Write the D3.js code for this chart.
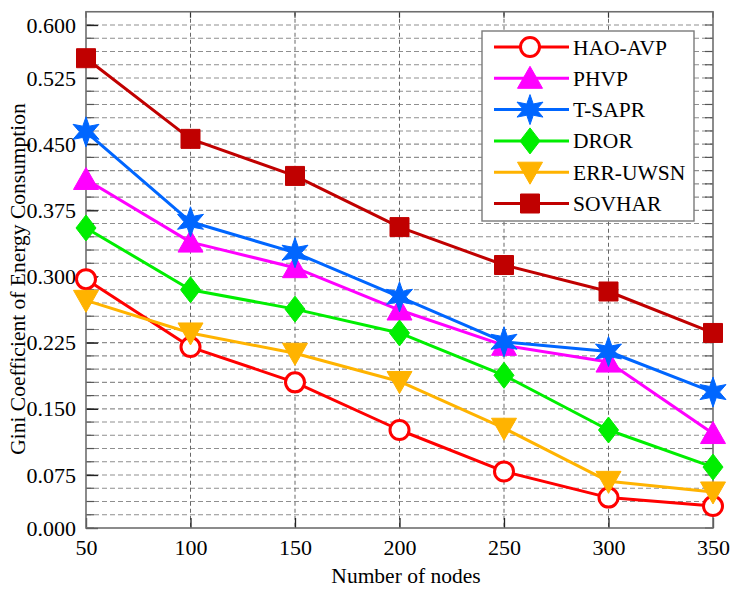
<!DOCTYPE html>
<html>
<head>
<meta charset="utf-8">
<script src="https://cdn.jsdelivr.net/npm/d3@7/dist/d3.min.js"></script>
<style>
  html, body { margin: 0; padding: 0; background: #fff; }
  svg { display: block; font-family: "Liberation Serif", "Times New Roman", serif; }
</style>
</head>
<body>
<svg id="chart" width="734" height="592"></svg>
<script>
// ---------- data ----------
const categories = [50, 100, 150, 200, 250, 300, 350];
const seriesNames = ["HAO-AVP", "PHVP", "T-SAPR", "DROR", "ERR-UWSN", "SOVHAR"];
const haoAvp  = [0.297, 0.220, 0.180, 0.126, 0.079, 0.043, 0.031];
const phvp    = [0.410, 0.339, 0.310, 0.262, 0.222, 0.203, 0.122];
const tSapr   = [0.464, 0.362, 0.327, 0.277, 0.226, 0.215, 0.169];
const dror    = [0.355, 0.285, 0.263, 0.236, 0.188, 0.126, 0.084];
const errUwsn = [0.273, 0.236, 0.213, 0.181, 0.128, 0.066, 0.051];
const sovhar  = [0.553, 0.456, 0.414, 0.356, 0.313, 0.283, 0.236];
const yTickValues = [0.000, 0.075, 0.150, 0.225, 0.300, 0.375, 0.450, 0.525, 0.600];
const xTickValues = [50, 100, 150, 200, 250, 300, 350];
const xTitle = "Number of nodes";
const yTitle = "Gini Coefficient of Energy Consumption";

(function () {
// ---------- styles ----------
const colors  = ["#ff0000", "#ff00ff", "#0066ff", "#00ee00", "#ffb300", "#c00000"];
const markers = ["circle", "triUp", "star", "diamond", "triDown", "square"];
const allValues = [haoAvp, phvp, tSapr, dror, errUwsn, sovhar];
const tickFont = 22, titleFont = 21.5, legendFont = 21.5;

const svg = d3.select("#chart");
svg.append("rect").attr("width", 734).attr("height", 592).attr("fill", "#fff");

const x = d3.scaleLinear().domain([50, 350]).range([86, 713]);
// piecewise axis (end intervals are shorter on the original picture)
const y = d3.scaleLinear().domain([0, 0.075, 0.525, 0.6]).range([528, 475, 78, 25]);
const yTop = 0.6 + 0.075 / 4;   // top edge of the axes box

const pL = x(50), pR = x(350), pT = y(yTop), pB = y(0);

// ---------- grid ----------
const minorVals = [
  ...d3.range(0, 4).map(i => 0.075 * i / 4),
  ...d3.range(0, 30).map(i => 0.075 + 0.015 * i),
  ...d3.range(0, 5).map(i => 0.525 + 0.075 * i / 4)
];
const grid = svg.append("g");
grid.selectAll("line.h").data(minorVals.filter(v => v > 0.0001)).join("line")
  .attr("x1", pL).attr("x2", pR)
  .attr("y1", d => y(d)).attr("y2", d => y(d))
  .attr("stroke", "#8f8f8f").attr("stroke-width", 1.1).attr("stroke-dasharray", "5,3");
grid.selectAll("line.v").data(xTickValues.slice(1, -1)).join("line")
  .attr("x1", d => x(d)).attr("x2", d => x(d))
  .attr("y1", pT).attr("y2", pB)
  .attr("stroke", "#666").attr("stroke-width", 1).attr("stroke-dasharray", "4,3");

// minor ticks on left and right (inward)
const mt = svg.append("g");
mt.selectAll("line.l").data(minorVals).join("line")
  .attr("x1", pL).attr("x2", pL + 8).attr("y1", d => y(d)).attr("y2", d => y(d))
  .attr("stroke", "#555").attr("stroke-width", 1.2);
mt.selectAll("line.r").data(minorVals).join("line")
  .attr("x1", pR).attr("x2", pR - 8).attr("y1", d => y(d)).attr("y2", d => y(d))
  .attr("stroke", "#555").attr("stroke-width", 1.2);
mt.selectAll("line.t").data(xTickValues).join("line")
  .attr("x1", d => x(d)).attr("x2", d => x(d)).attr("y1", pT).attr("y2", pT + 6)
  .attr("stroke", "#333").attr("stroke-width", 1.2);

// ---------- axes ----------
const yAxis = d3.axisLeft(y).tickValues(yTickValues).tickFormat(d3.format(".3f"))
  .tickSizeInner(-12).tickSizeOuter(0).tickPadding(10);
const gy = svg.append("g").attr("transform", `translate(${pL},0)`).call(yAxis);
gy.select(".domain").remove();
gy.selectAll(".tick line").attr("stroke", "#222").attr("stroke-width", 1.3);
gy.selectAll(".tick text").attr("font-size", tickFont).attr("fill", "#000")
  .attr("font-family", "Liberation Serif, serif");

const xAxis = d3.axisBottom(x).tickValues(xTickValues).tickFormat(d3.format("d"))
  .tickSizeInner(-10).tickSizeOuter(0).tickPadding(11);
const gx = svg.append("g").attr("transform", `translate(0,${pB})`).call(xAxis);
gx.select(".domain").remove();
gx.selectAll(".tick line").attr("stroke", "#222").attr("stroke-width", 1.3);
gx.selectAll(".tick text").attr("font-size", tickFont).attr("fill", "#000")
  .attr("font-family", "Liberation Serif, serif");

// axes box
svg.append("rect").attr("x", pL).attr("y", pT)
  .attr("width", pR - pL).attr("height", pB - pT)
  .attr("fill", "none").attr("stroke", "#6e6e6e").attr("stroke-width", 1.6);

// titles
svg.append("text").attr("x", 406).attr("y", 583)
  .attr("text-anchor", "middle").attr("font-size", titleFont).attr("fill", "#000").text(xTitle);
svg.append("text").attr("transform", "translate(25,279) rotate(-90)")
  .attr("text-anchor", "middle").attr("font-size", titleFont).attr("fill", "#000").text(yTitle);

// ---------- markers ----------
function markerPath(type) {
  const p = d3.path();
  if (type === "circle") {
    p.arc(0, 0, 9.5, 0, 2 * Math.PI); p.closePath();
  } else if (type === "square") {
    p.rect(-9.5, -9.5, 19, 19);
  } else if (type === "triUp") {
    p.moveTo(0, -12); p.lineTo(12.5, 10); p.lineTo(-12.5, 10); p.closePath();
  } else if (type === "triDown") {
    p.moveTo(0, 12); p.lineTo(12.5, -10); p.lineTo(-12.5, -10); p.closePath();
  } else if (type === "diamond") {
    p.moveTo(0, -13); p.lineTo(10, 0); p.lineTo(0, 13); p.lineTo(-10, 0); p.closePath();
  } else if (type === "star") {
    const R = 15, r = 6.5;
    for (let i = 0; i < 12; i++) {
      const a = -Math.PI / 2 + i * Math.PI / 6;
      const rr = i % 2 === 0 ? R : r;
      const px = rr * Math.cos(a), py = rr * Math.sin(a);
      if (i === 0) p.moveTo(px, py); else p.lineTo(px, py);
    }
    p.closePath();
  }
  return p.toString();
}
function drawMarker(g, type, color) {
  const isOpen = type === "circle";
  g.append("path").attr("d", markerPath(type))
    .attr("fill", isOpen ? "#fff" : color)
    .attr("stroke", color).attr("stroke-width", isOpen ? 3 : 1);
}

// ---------- series ----------
const line = d3.line().x((d, i) => x(categories[i])).y(d => y(d));
const plot = svg.append("g");
allValues.forEach((vals, s) => {
  const g = plot.append("g");
  g.append("path").datum(vals).attr("d", line)
    .attr("fill", "none").attr("stroke", colors[s]).attr("stroke-width", 3)
    .attr("stroke-linejoin", "round");
  vals.forEach((v, i) => {
    const mg = g.append("g").attr("transform", `translate(${x(categories[i])},${y(v)})`);
    drawMarker(mg, markers[s], colors[s]);
  });
});

// ---------- legend ----------
const lg = svg.append("g");
lg.append("rect").attr("x", 482).attr("y", 31).attr("width", 212).attr("height", 190)
  .attr("fill", "#fff").attr("stroke", "#7a7a7a").attr("stroke-width", 1.4);
seriesNames.forEach((name, s) => {
  const cy = 47 + s * 31.3;
  const row = lg.append("g").attr("transform", `translate(0,${cy})`);
  row.append("line").attr("x1", 494).attr("x2", 569).attr("y1", 0).attr("y2", 0)
    .attr("stroke", colors[s]).attr("stroke-width", 3);
  const mg = row.append("g").attr("transform", "translate(530,0)");
  drawMarker(mg, markers[s], colors[s]);
  row.append("text").attr("x", 573).attr("y", 0).attr("dy", "0.35em")
    .attr("font-size", legendFont).attr("fill", "#000").text(name);
});
})();
</script>
</body>
</html>
